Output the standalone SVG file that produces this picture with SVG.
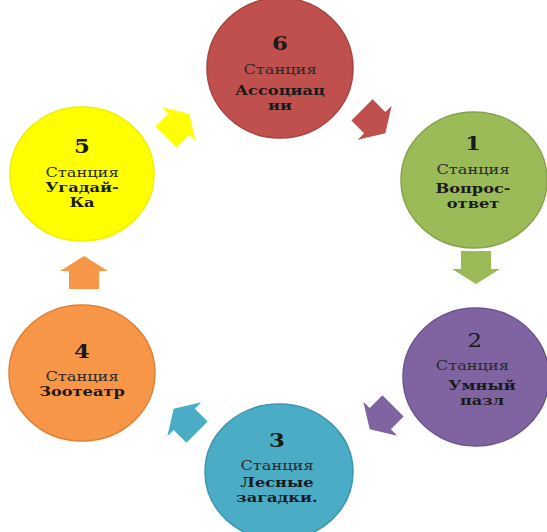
<svg xmlns="http://www.w3.org/2000/svg" width="547" height="532" viewBox="0 0 547 532">
<defs>
<style>
.num{font-family:"DejaVu Serif","Liberation Serif",serif;font-size:19px;font-weight:bold;fill:#1a1a1a;text-anchor:middle}
.numr{font-family:"DejaVu Serif","Liberation Serif",serif;font-size:19px;font-weight:normal;fill:#1a1a1a;text-anchor:middle}
.st{font-family:"DejaVu Serif","Liberation Serif",serif;font-size:13.5px;fill:#2a2a2a;text-anchor:middle}
.nm{font-family:"DejaVu Serif","Liberation Serif",serif;font-size:13.5px;font-weight:bold;fill:#1a1a1a;text-anchor:middle}
</style>
<polygon id="arr" points="-17,-15 1,-15 1,-24 16,0 1,24 1,15 -17,15"/>
</defs>
<rect width="547" height="532" fill="#ffffff"/>
<g id="connectors">
<use href="#arr" transform="translate(178,125) rotate(-45)" fill="#FFFF00"/>
<use href="#arr" transform="translate(374,122) rotate(45)" fill="#C0504D"/>
<use href="#arr" transform="translate(476,268) rotate(90)" fill="#9BBB59"/>
<use href="#arr" transform="translate(381,418) rotate(135)" fill="#8064A2"/>
<use href="#arr" transform="translate(185,420) rotate(-135)" fill="#4BACC6"/>
<use href="#arr" transform="translate(84,272) rotate(-90)" fill="#F79646"/>
</g>
<g id="node6">
<ellipse cx="280" cy="68" rx="73" ry="70" fill="#C0504D" stroke="#A8423F" stroke-width="1.5"/>
<g transform="translate(280,0) scale(1.2,1)">
<text class="num" x="0" y="50">6</text>
<text class="st" x="0" y="74">Станция</text>
<text class="nm" x="0" y="95">Ассоциац</text>
<text class="nm" x="0" y="110">ии</text>
</g>
</g>
<g id="node1">
<ellipse cx="474" cy="180" rx="73" ry="68" fill="#9BBB59" stroke="#86A34A" stroke-width="1.5"/>
<g transform="translate(473,0) scale(1.2,1)">
<text class="num" x="0" y="150">1</text>
<text class="st" x="0" y="174">Станция</text>
<text class="nm" x="0" y="193">Вопрос-</text>
<text class="nm" x="0" y="208">ответ</text>
</g>
</g>
<g id="node2">
<ellipse cx="476" cy="377" rx="73" ry="69" fill="#8064A2" stroke="#6C528C" stroke-width="1.5"/>
<g transform="translate(476,0) scale(1.2,1)">
<text class="numr" x="-1" y="347">2</text>
<text class="st" x="-3" y="370">Станция</text>
<text class="nm" x="5" y="390">Умный</text>
<text class="nm" x="5" y="405">пазл</text>
</g>
</g>
<g id="node3">
<ellipse cx="279" cy="472" rx="74" ry="68" fill="#4BACC6" stroke="#3C96AE" stroke-width="1.5"/>
<g transform="translate(277,0) scale(1.2,1)">
<text class="num" x="0" y="447">3</text>
<text class="st" x="0" y="470">Станция</text>
<text class="nm" x="0" y="487">Лесные</text>
<text class="nm" x="0" y="502">загадки.</text>
</g>
</g>
<g id="node4">
<ellipse cx="82" cy="373" rx="73" ry="68" fill="#F79646" stroke="#DE8035" stroke-width="1.5"/>
<g transform="translate(82,0) scale(1.2,1)">
<text class="num" x="0" y="358">4</text>
<text class="st" x="0" y="381">Станция</text>
<text class="nm" x="0" y="396">Зоотеатр</text>
</g>
</g>
<g id="node5">
<ellipse cx="82" cy="174" rx="72" ry="67" fill="#FFFF00" stroke="#F0F000" stroke-width="1.5"/>
<g transform="translate(82,0) scale(1.2,1)">
<text class="num" x="0" y="153">5</text>
<text class="st" x="0" y="177">Станция</text>
<text class="nm" x="0" y="192">Угадай-</text>
<text class="nm" x="0" y="207">Ка</text>
</g>
</g>
</svg>
